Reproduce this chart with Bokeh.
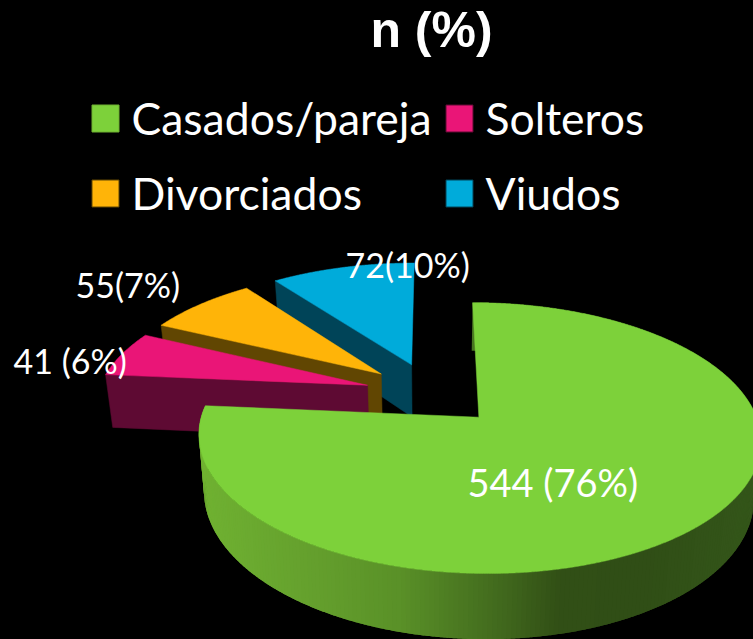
import numpy as np
from bokeh.plotting import figure
from bokeh.models import Range1d
from bokeh.core.properties import value
from bokeh.embed import file_html
from bokeh.resources import INLINE

title = "n (%)"
categories = ["Casados/pareja", "Solteros", "Divorciados", "Viudos"]
counts = [544, 41, 55, 72]
labels = ["544 (76%)", "41 (6%)", "55(7%)", "72(10%)"]
top_colors = ["#7DD13A", "#EA1577", "#FFB408", "#00ABDA"]
side_colors = ["#6FB030", "#5E0A33", "#614602", "#004458"]

# projection of the exploded pie
CX, CY, RX, RY, PERSP, EXPLODE, DEPTH, NARROW = 431.5, 393, 270, 125, 0.15, 0.25, 54, 0.022
FONT = "Lato"

W, H = 753, 639
p = figure(width=W, height=H, x_range=Range1d(0, W), y_range=Range1d(H, 0),
           output_backend="svg", toolbar_location=None, background_fill_color="black",
           border_fill_color="black", min_border=0, outline_line_color=None)
p.axis.visible = False
p.grid.visible = False


def project(X, Y):
    s = 1 / (1 + PERSP * Y)
    return CX + RX * X * s, CY - RY * Y * s, s


def lower(x, y, s):
    return CX + (x - CX) * (1 - NARROW), y + DEPTH * s


total = sum(counts)
edges = np.cumsum([0] + counts) / total * 2 * np.pi


def slice_pts(i, n=160):
    a0, a1 = edges[i], edges[i + 1]
    mid = (a0 + a1) / 2
    ox, oy = EXPLODE * np.sin(mid), EXPLODE * np.cos(mid)
    t = np.linspace(a0, a1, n)
    return ox, oy, t


def arc_xy(ox, oy, t):
    return project(ox + np.sin(t), oy + np.cos(t))


# small slices: back to front
for i in [3, 2, 1]:
    ox, oy, t = slice_pts(i)
    ax, ay, a_s = project(ox, oy)
    x, y, s = arc_xy(ox, oy, t)
    bx0, by0 = lower(x[0], y[0], s[0])
    bax, bay = lower(ax, ay, a_s)
    p.patch([x[0], ax, bax, bx0], [y[0], ay, bay, by0],
            fill_color=side_colors[i], line_color=side_colors[i], line_width=0.5)
    p.patch([ax, *x], [ay, *y], fill_color=top_colors[i], line_color=top_colors[i], line_width=0.5)

# big slice: shaded rim (overlapping bands), then the top
ox, oy, t = slice_pts(0, 960)
x, y, s = arc_xy(ox, oy, t)
bx, by = lower(x, y, s)
stop_x = [200, 300, 400, 500, 560, 640, 753]
stop_r = [112, 102, 90, 66, 50, 48, 52]
stop_g = [178, 162, 145, 106, 80, 78, 86]
stop_b = [50, 46, 40, 30, 22, 22, 26]
step = 3
rim_xs, rim_ys, rim_cols = [], [], []
for k in range(0, len(t) - step, step):
    k2 = min(k + 2 * step, len(t) - 1)
    rim_xs.append([*x[k:k2 + 1], *bx[k:k2 + 1][::-1]])
    rim_ys.append([*y[k:k2 + 1], *by[k:k2 + 1][::-1]])
    xm = x[k + step // 2]
    c = (int(np.interp(xm, stop_x, stop_r)), int(np.interp(xm, stop_x, stop_g)), int(np.interp(xm, stop_x, stop_b)))
    rim_cols.append("#%02x%02x%02x" % c)
p.patches(rim_xs, rim_ys, fill_color=rim_cols, line_color=None)
ax, ay, _ = project(ox, oy)
p.patch([ax, *x], [ay, *y], fill_color=top_colors[0], line_color=top_colors[0], line_width=0.5)

# title
p.text([431], [29], text=[title], text_color="white", text_align="center", text_baseline="alphabetic",
       text_font=value("Liberation Sans"), text_font_style="bold", text_font_size="50px")

# legend
leg_x = [105, 459, 105, 459]
leg_y = [118, 118, 193, 193]
p.scatter(leg_x, leg_y, marker="square", size=27, fill_color=top_colors, line_color=side_colors, line_width=1)
p.text([x_ + 26 for x_ in leg_x], [y_ - 1 for y_ in leg_y], text=categories,
       text_color="white", text_align="left", text_baseline="middle",
       text_font=value(FONT), text_font_size="44.5px")

# value labels
lab_x = [467, 13, 75, 345]
lab_y = [481, 360, 284, 264]
lab_size = ["38px", "34px", "34px", "34px"]
for lx, ly, lt, ls in zip(lab_x, lab_y, labels, lab_size):
    p.text([lx], [ly], text=[lt], text_color="white", text_align="left", text_baseline="middle",
           text_font=value(FONT), text_font_size=ls)

html = file_html(p, INLINE)
html = html.replace("<head>", "<head><style>html,body{margin:0;background:#000;overflow:hidden}</style>", 1)
open("out.html", "w").write(html)
